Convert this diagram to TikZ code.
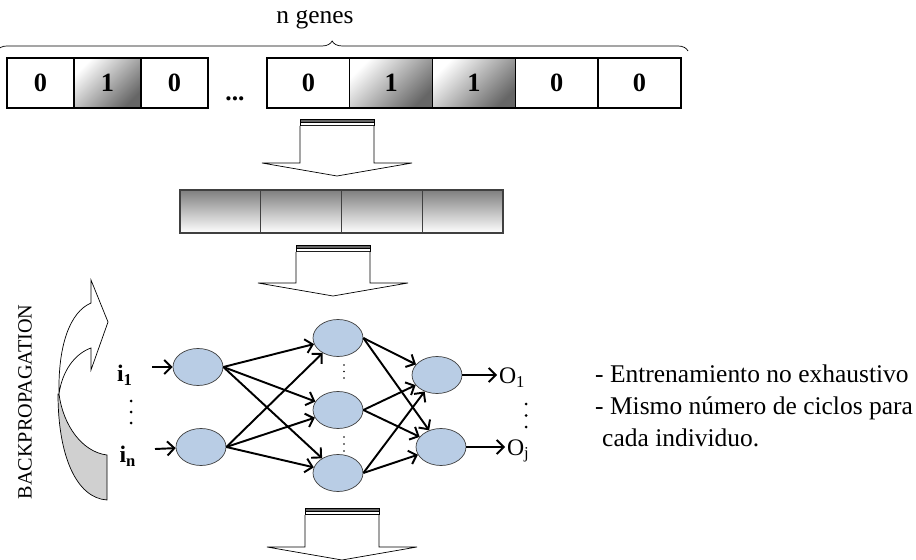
\documentclass[tikz,border=0pt]{standalone}
\usepackage{fontspec}
\setmainfont{Liberation Serif}
\usetikzlibrary{arrows.meta, positioning, shapes.geometric, decorations.pathreplacing}
\definecolor{neuron}{HTML}{B9CDE5}
\definecolor{backfill}{HTML}{D0D0D0}

\begin{document}
\begin{tikzpicture}[
    x=0.02cm, y=-0.02cm,
    every node/.style={font=\fontsize{14.5}{18.2}\selectfont},
    node distance=0pt,
    gene/.style={
        rectangle,
        draw,
        thick,
        outer sep=0pt,
        minimum height=1cm,
        font=\fontsize{15}{18}\selectfont\bfseries
    },
    genesmall/.style={gene, minimum width=1.34cm},
    genebig/.style={gene, minimum width=1.656cm},
    uno/.style={top color=white, bottom color=black!60, shading angle=45},
    chunk/.style={
        rectangle,
        draw=black!75,
        thick,
        outer sep=0pt,
        minimum width=1.615cm,
        minimum height=0.86cm,
        top color=black!50,
        bottom color=white
    },
    neurona/.style={
        ellipse,
        draw=black!75,
        fill=neuron,
        minimum width=1cm,
        minimum height=0.74cm,
        inner sep=0pt
    },
    etiq/.style={font=\fontsize{13.5}{16}\selectfont, inner sep=1pt},
    arrow/.style={-{Straight Barb[length=4pt,width=8pt]}, line width=1.1pt}
]
\useasboundingbox (0,0) rectangle (916,560);

% CHROMOSOME
\node[genesmall] (g1) at (40.5,83) {0};
\node[genesmall, uno, right=of g1] (g2) {1};
\node[genesmall, right=of g2] (g3) {0};
\node[anchor=base] (gdots) at (235,101) {\textbf{...}};
\node[genebig] (g4) at (308.4,83) {0};
\node[genebig, uno, right=of g4] (g5) {1};
\node[genebig, uno, right=of g5] (g6) {1};
\node[genebig, right=of g6] (g7) {0};
\node[genebig, right=of g7] (g8) {0};

\coordinate (bl) at (-3,51);
\coordinate (br) at (688,51);
\draw[decorate, decoration={brace, amplitude=5.7pt, aspect=0.485}] (bl) -- (br);
\node (ngenes) at (315,20) {n genes};

% BLOCK ARROWS
\foreach \x/\y/\h in {337/119/44, 333/245/38, 342/508/39} {
    \draw[thin, fill=black!60] (\x-37,\y) rectangle (\x+37,\y+3);
    \draw[thin] (\x-37,\y+6) -- (\x+37,\y+6);
    \draw[thin, fill=white] (\x-37,\y+7) -- (\x-37,\y+\h) -- (\x-75,\y+\h)
        -- (\x,\y+\h+13) -- (\x+75,\y+\h) -- (\x+37,\y+\h) -- (\x+37,\y+7);
    \draw[thin] (\x-37,\y+3) -- (\x-37,\y+7) (\x+37,\y+3) -- (\x+37,\y+7);
}

% ENCODED NETWORK
\node[chunk] (c1) at (220.4,211.5) {};
\node[chunk, right=of c1] (c2) {};
\node[chunk, right=of c2] (c3) {};
\node[chunk, right=of c3] (c4) {};

% NEURAL NETWORK
\node[neurona] (in1) at (198,367) {};
\node[neurona] (inn) at (201,447) {};
\node[neurona] (h1) at (338,338) {};
\node[neurona] (h2) at (338,410) {};
\node[neurona] (h3) at (338,473) {};
\node[neurona] (o1) at (437,375) {};
\node[neurona] (oj) at (441,447) {};

% dots
\foreach \y in {365,371.5,378,437,444,451}
    \fill (344,\y) circle (0.9);
\foreach \y in {401,412,423}
    \fill (131,\y) circle (1.5);
\foreach \y in {404,415.5,427}
    \fill (526,\y) circle (1.5);

\node[etiq] (i1) at (125,375) {\textbf{i\textsubscript{1}}};
\node[etiq] (in) at (128,456) {\textbf{i\textsubscript{n}}};
\coordinate (x1) at (152,367);
\coordinate (xn) at (155,449);

\node[etiq, anchor=west] (O1) at (497,378) {O\textsubscript{1}};
\node[etiq, anchor=west] (Oj) at (505,451) {O\textsubscript{j}};

\draw[arrow] (x1) -- (in1);
\draw[arrow] (xn) -- (inn);
\foreach \a in {in1,inn}
    \foreach \b in {h1,h2,h3}
        \draw[arrow] (\a.east) -- (\b);
\foreach \a in {h1,h2,h3}
    \foreach \b in {o1,oj}
        \draw[arrow] (\a.east) -- (\b);
\draw[arrow] (o1) -- (o1 -| O1.west);
\draw[arrow] (oj) -- (oj -| Oj.west);

% BACKPROPAGATION
\draw[thin, fill=backfill] (59,394) .. controls (63,425) and (82,452) .. (107,455)
    -- (107,500) .. controls (76,498) and (58,455) .. (58,394) -- cycle;
\draw[thin, fill=white] (91,303) -- (91,280) -- (108,322) -- (91,370) -- (91,348)
    .. controls (74,354) and (62,372) .. (59,394)
    .. controls (58,345) and (70,312) .. (91,303) -- cycle;
\node[rotate=90, font=\fontsize{11.5}{14}\selectfont] (bp) at (25,402) {BACKPROPAGATION};

% NOTES
\node[align=left, anchor=north west] (notes) at (589,359)
    {- Entrenamiento no exhaustivo\\- Mismo número de ciclos para\\\hspace{4pt}cada individuo.};

\end{tikzpicture}
\end{document}
